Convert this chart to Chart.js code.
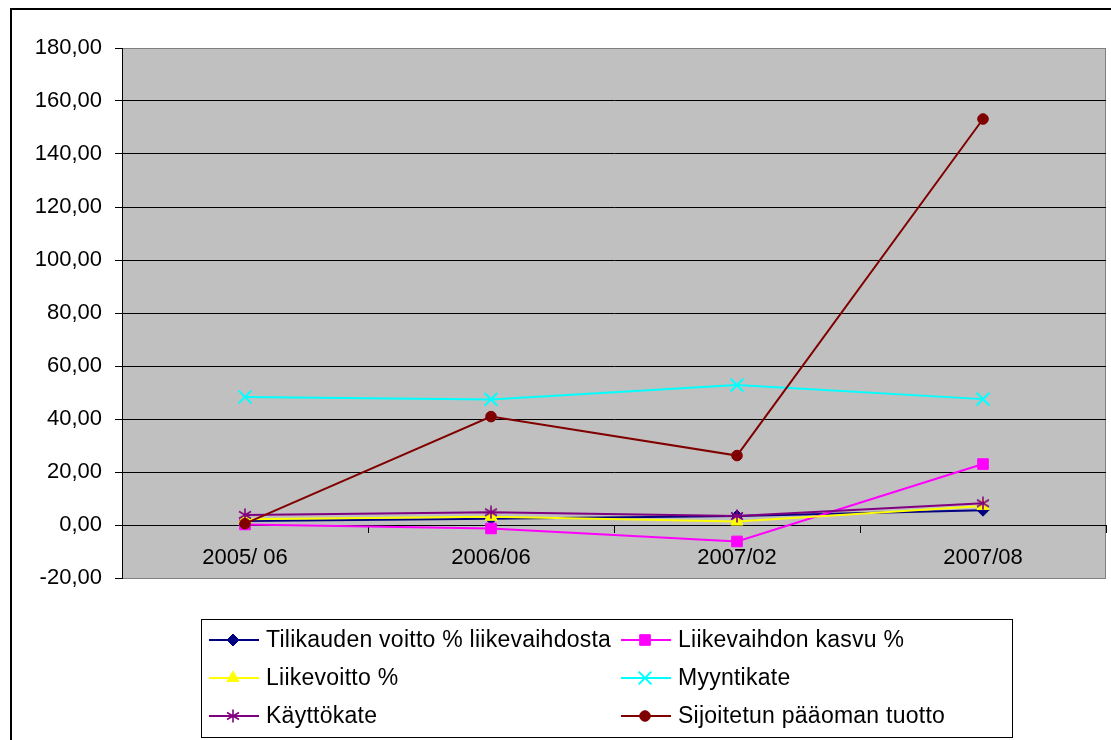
<!DOCTYPE html>
<html lang="fi">
<head>
<meta charset="utf-8">
<title>Tunnusluvut</title>
<script src="https://cdn.jsdelivr.net/npm/chart.js@4/dist/chart.umd.min.js"></script>
<style>
  html, body { margin: 0; padding: 0; background: #ffffff; }
  canvas { display: block; }
</style>
</head>
<body>
<canvas id="chart" width="1111" height="740"></canvas>
<script>
// Tilikaudet
const periods = ['2005/ 06', '2006/06', '2007/02', '2007/08'];

// Tunnusluvut (%)
const tilikaudenVoitto = [1.5, 2.4, 3.4, 5.6];
const liikevaihdonKasvu = [0.2, -1.3, -6.2, 23.0];
const liikevoitto = [2.2, 3.1, 1.3, 7.2];
const myyntikate = [48.3, 47.4, 52.8, 47.5];
const kayttokate = [3.8, 4.8, 3.4, 8.2];
const sijoitetunTuotto = [0.5, 40.9, 26.2, 153.2];

// Arvoakselin alue
const valueMin = -20;
const valueMax = 180;
const valueStep = 20;

const FONT = '"Liberation Sans", Arial, sans-serif';

// Tähtimerkki (pystyviiva + kaksi vinoviivaa)
function makeAsterisk(color) {
  const c = document.createElement('canvas');
  c.width = 14; c.height = 14;
  const g = c.getContext('2d');
  g.strokeStyle = color;
  g.lineWidth = 1.6;
  g.beginPath();
  g.moveTo(7, 0.5); g.lineTo(7, 13.5);
  g.moveTo(1, 3.5); g.lineTo(13, 10.5);
  g.moveTo(1, 10.5); g.lineTo(13, 3.5);
  g.stroke();
  return c;
}

function series(label, data, color, style, radius, extra) {
  return Object.assign({
    label: label,
    data: data,
    borderColor: color,
    backgroundColor: color,
    borderWidth: 2,
    pointStyle: style,
    pointRadius: radius,
    pointHoverRadius: radius,
    pointBackgroundColor: color,
    pointBorderColor: color,
    pointBorderWidth: 1,
    tension: 0,
    fill: false
  }, extra || {});
}

const datasets = [
  series('Tilikauden voitto % liikevaihdosta', tilikaudenVoitto, '#000080', 'rectRot', 6),
  series('Liikevaihdon kasvu %', liikevaihdonKasvu, '#FF00FF', 'rect', 7.5),
  series('Liikevoitto %', liikevoitto, '#FFFF00', 'triangle', 7),
  series('Myyntikate', myyntikate, '#00FFFF', 'crossRot', 9, { pointBorderWidth: 2 }),
  series('Käyttökate', kayttokate, '#800080', makeAsterisk('#800080'), 7),
  series('Sijoitetun pääoman tuotto', sijoitetunTuotto, '#800000', 'circle', 5.3)
];
// Myöhemmät sarjat piirretään päällimmäisiksi
datasets.forEach((d, i) => { d.order = datasets.length - 1 - i; });

// Kuvan kehys ja harmaa piirtoalue
const framePlugin = {
  id: 'frame',
  beforeDraw(chart) {
    const ctx = chart.ctx;
    const a = chart.chartArea;
    ctx.save();
    ctx.fillStyle = '#ffffff';
    ctx.fillRect(0, 0, chart.width, chart.height);
    ctx.strokeStyle = '#000000';
    ctx.lineWidth = 2;
    ctx.beginPath();
    ctx.moveTo(11, chart.height + 10);
    ctx.lineTo(11, 9);
    ctx.lineTo(chart.width + 10, 9);
    ctx.stroke();
    ctx.fillStyle = '#C0C0C0';
    ctx.fillRect(a.left, a.top, a.right - a.left, a.bottom - a.top);
    ctx.strokeStyle = '#808080';
    ctx.lineWidth = 1;
    ctx.strokeRect(a.left + 0.5, a.top + 0.5, a.right - a.left - 1, a.bottom - a.top);
    ctx.restore();
  }
};

// Selite kahdessa sarakkeessa laatikon sisällä
const legendPlugin = {
  id: 'boxLegend',
  afterDraw(chart) {
    const ctx = chart.ctx;
    const box = { x: 201.5, y: 619.5, w: 811, h: 118 };
    ctx.save();
    ctx.fillStyle = '#ffffff';
    ctx.fillRect(box.x, box.y, box.w, box.h);
    ctx.strokeStyle = '#000000';
    ctx.lineWidth = 1;
    ctx.strokeRect(box.x, box.y, box.w, box.h);
    const colX = [209, 621];
    const rowY = [640, 678, 716];
    ctx.font = '23px ' + FONT;
    if ('letterSpacing' in ctx) ctx.letterSpacing = '0.25px';
    ctx.textBaseline = 'middle';
    chart.data.datasets.forEach((ds, i) => {
      const x0 = colX[i % 2];
      const y = rowY[Math.floor(i / 2)];
      ctx.strokeStyle = ds.borderColor;
      ctx.lineWidth = 2;
      ctx.beginPath();
      ctx.moveTo(x0, y);
      ctx.lineTo(x0 + 50, y);
      ctx.stroke();
      ctx.fillStyle = ds.pointBackgroundColor;
      ctx.strokeStyle = ds.pointBorderColor;
      ctx.lineWidth = ds.pointBorderWidth;
      Chart.helpers.drawPoint(ctx, {
        pointStyle: ds.pointStyle,
        rotation: 0,
        radius: ds.pointRadius,
        borderWidth: ds.pointBorderWidth
      }, x0 + 24, y);
      ctx.fillStyle = '#000000';
      ctx.fillText(ds.label, x0 + 57, y + 1);
    });
    ctx.restore();
  }
};

new Chart(document.getElementById('chart'), {
  type: 'line',
  data: { labels: periods, datasets: datasets },
  plugins: [framePlugin, legendPlugin],
  options: {
    responsive: false,
    animation: false,
    devicePixelRatio: 1,
    layout: { autoPadding: false, padding: { top: 48, left: 0, right: 5, bottom: 162 } },
    plugins: {
      legend: { display: false },
      tooltip: { enabled: false }
    },
    scales: {
      x: {
        type: 'category',
        position: { y: 0 },
        offset: true,
        afterFit(scale) {
          scale.paddingLeft = 0;
          scale.paddingRight = 0;
          scale.paddingTop = 0;
          scale.paddingBottom = 0;
        },
        grid: {
          offset: true,
          drawOnChartArea: false,
          drawTicks: true,
          tickLength: 7,
          tickColor: '#000000',
          tickWidth: 1
        },
        border: { display: true, color: '#000000', width: 1 },
        ticks: {
          color: '#000000',
          font: { family: FONT, size: 22 },
          padding: 13,
          maxRotation: 0,
          autoSkip: false
        }
      },
      y: {
        min: valueMin,
        max: valueMax,
        afterFit(scale) {
          scale.width = 122;
          scale.paddingLeft = 0;
          scale.paddingRight = 0;
        },
        grid: {
          color: (c) => (c.tick && (c.tick.value === valueMax || c.tick.value === valueMin)) ? 'rgba(0,0,0,0)' : '#000000',
          tickColor: '#000000',
          tickLength: 7,
          lineWidth: 1
        },
        border: { display: true, color: '#000000', width: 1 },
        ticks: {
          stepSize: valueStep,
          color: '#000000',
          font: { family: FONT, size: 22 },
          padding: 13,
          callback: (v) => Number(v).toFixed(2).replace('.', ',')
        }
      }
    }
  }
});
</script>
</body>
</html>
